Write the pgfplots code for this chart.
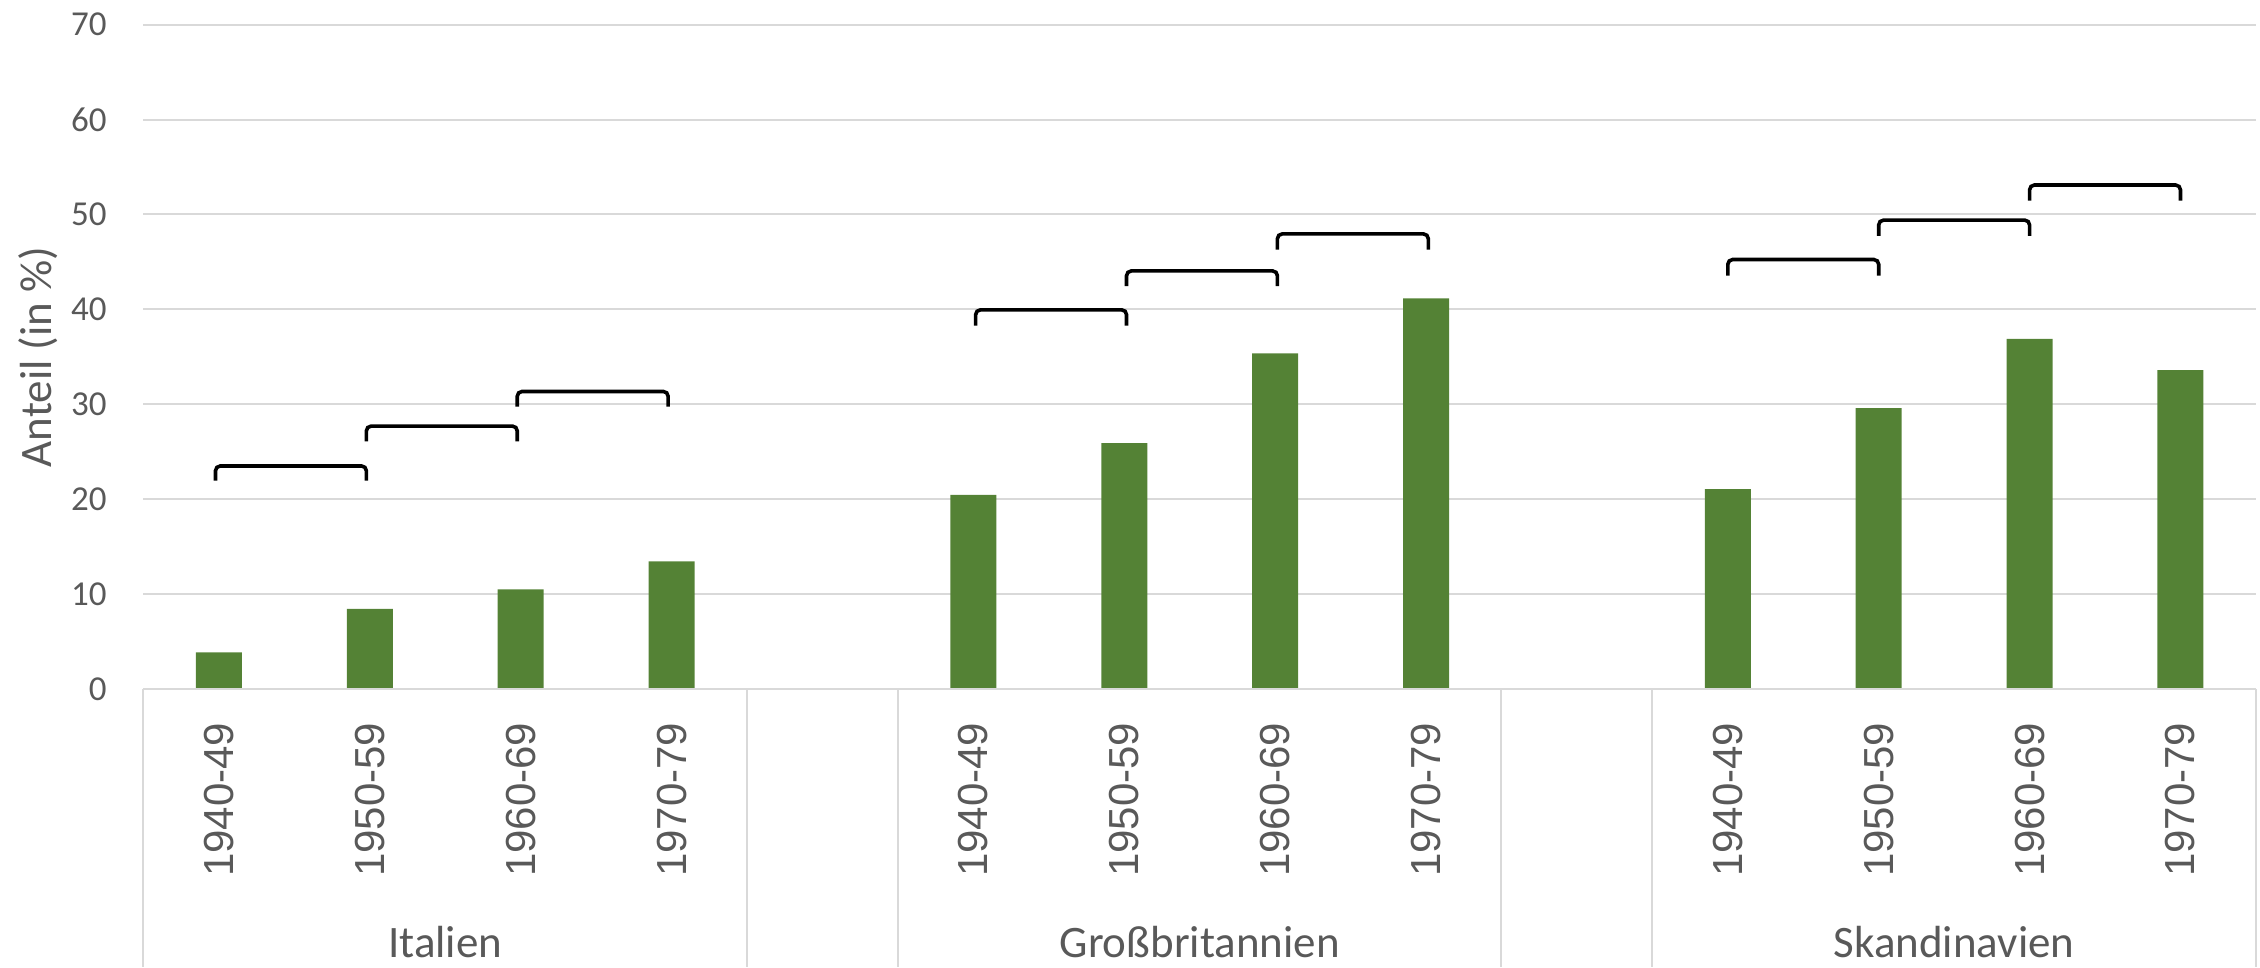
\documentclass[border=0pt]{standalone}
\usepackage{pgfplots}
\pgfplotsset{compat=1.18}
\usepackage{fontspec}
\setmainfont{Carlito}
\newfontfamily\yearfont{Liberation Sans}
\definecolor{barg}{HTML}{548235}
\definecolor{gridc}{HTML}{D9D9D9}
\definecolor{txt}{HTML}{595959}
\begin{document}
\begin{tikzpicture}
\useasboundingbox (0,0) rectangle (565pt,241.75pt);
\begin{axis}[
  at={(35.875pt,69.5pt)}, anchor=south west,
  scale only axis, width=528.1pt, height=166.1pt,
  xmin=-0.5, xmax=13.5, ymin=0, ymax=70,
  ytick={0,10,...,70},
  xtick={0,1,2,3,5,6,7,8,10,11,12,13},
  xticklabels={1940-49,1950-59,1960-69,1970-79,1940-49,1950-59,1960-69,1970-79,1940-49,1950-59,1960-69,1970-79},
  major tick length=0pt,
  axis line style={draw=none},
  ymajorgrids, grid style={gridc, line width=0.5pt},
  /pgf/number format/assume math mode=true,
  yticklabel style={font=\fontsize{8.75}{10}\selectfont, text=txt, anchor=east, inner sep=0pt, xshift=-9pt},
  xticklabel style={font=\yearfont\fontsize{10.5}{12}\selectfont, text=txt, yshift=-8.2pt, rotate=90, anchor=east, inner sep=0pt},
  ylabel={Anteil (in \%)},
  ylabel style={font=\fontsize{11.25}{13}\selectfont, text=txt, at={(axis description cs:-0.05,0.5)}, anchor=center},
  clip=false,
  brk/.style={black, line width=0.9pt, no markers, rounded corners=1.2pt},
]
\addplot[ybar, fill=barg, draw=none, bar width=0.305] coordinates {
  (0,3.85) (1,8.45) (2,10.5) (3,13.45)
  (5,20.45) (6,25.9) (7,35.35) (8,41.15)
  (10,21.05) (11,29.6) (12,36.9) (13,33.6)
};
% brackets Italien
\addplot[brk] coordinates {(-0.023,21.95) (-0.023,23.5) (0.977,23.5) (0.977,21.95)};
\addplot[brk] coordinates {(0.977,26.1) (0.977,27.7) (1.977,27.7) (1.977,26.1)};
\addplot[brk] coordinates {(1.977,29.75) (1.977,31.35) (2.977,31.35) (2.977,29.75)};
% brackets Grossbritannien
\addplot[brk] coordinates {(5.015,38.3) (5.015,39.95) (6.015,39.95) (6.015,38.3)};
\addplot[brk] coordinates {(6.015,42.45) (6.015,44.05) (7.015,44.05) (7.015,42.45)};
\addplot[brk] coordinates {(7.015,46.3) (7.015,47.95) (8.015,47.95) (8.015,46.3)};
% brackets Skandinavien
\addplot[brk] coordinates {(10,43.55) (10,45.25) (11,45.25) (11,43.55)};
\addplot[brk] coordinates {(11,47.75) (11,49.4) (12,49.4) (12,47.75)};
\addplot[brk] coordinates {(12,51.45) (12,53.1) (13,53.1) (13,51.45)};
% category axis frame
\draw[gridc, line width=0.5pt] (axis cs:-0.5,0) -- (axis cs:13.5,0);
\pgfplotsinvokeforeach{-0.5,3.5,4.5,8.5,9.5,13.5}{
  \draw[gridc, line width=0.5pt] (axis cs:#1,0) -- ++(0pt,-69.5pt);
}
\node[font=\fontsize{11.25}{13}\selectfont, text=txt, anchor=base, yshift=-67.2pt] at (axis cs:1.5,0) {Italien};
\node[font=\fontsize{11.25}{13}\selectfont, text=txt, anchor=base, yshift=-67.2pt] at (axis cs:6.5,0) {Großbritannien};
\node[font=\fontsize{11.25}{13}\selectfont, text=txt, anchor=base, yshift=-67.2pt] at (axis cs:11.5,0) {Skandinavien};
\end{axis}
\end{tikzpicture}
\end{document}
